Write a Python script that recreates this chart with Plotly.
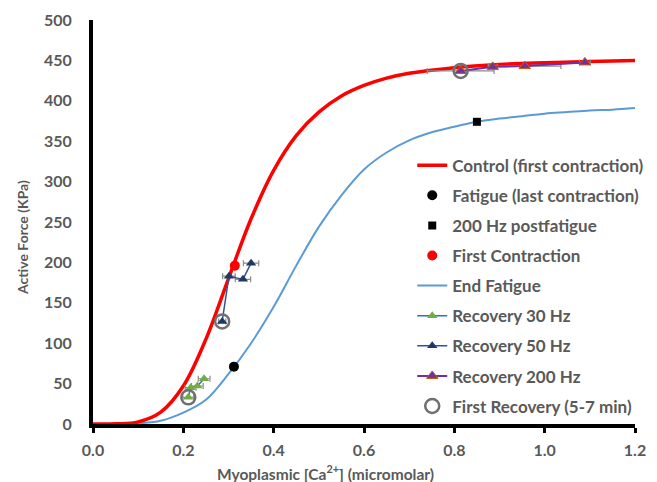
import plotly.graph_objects as go

# Control (first contraction) force-Ca2+ relation
control_ca = [0.0, 0.05, 0.1, 0.15, 0.2, 0.25, 0.3, 0.35, 0.4, 0.45, 0.5, 0.55,
              0.6, 0.65, 0.7, 0.8, 0.9, 1.0, 1.1, 1.2]
control_force = [0, 0.2, 2.6, 14.7, 47, 105, 180, 254, 314, 357, 386, 406,
                 419, 428, 434, 441, 445, 447, 448.5, 450]

# End-of-fatigue force-Ca2+ relation
fatigue_ca = [0.0, 0.05, 0.1, 0.15, 0.2, 0.25, 0.3, 0.35, 0.4, 0.45, 0.5, 0.55,
              0.6, 0.65, 0.7, 0.75, 0.8, 0.85, 0.9, 0.95, 1.0, 1.05, 1.1, 1.15, 1.2]
fatigue_force = [0, 0, 1, 4, 14, 30, 62, 100, 145, 196, 244, 283,
                 315, 336, 351, 361, 368, 374, 378, 381, 384, 386, 388, 389, 391]

# Single measurements
fatigue_last_ca, fatigue_last_force = [0.312], [71]
post200_ca, post200_force = [0.850], [374]
first_ca, first_force = [0.314], [196]

# Recovery series (Ca2+, force, Ca2+ SEM)
rec30_ca = [0.211, 0.216, 0.231, 0.246]
rec30_force = [33, 45, 47, 56]
rec30_err = [0.012, 0.012, 0.013, 0.013]

rec50_ca = [0.286, 0.301, 0.332, 0.350]
rec50_force = [127, 183, 179, 199]
rec50_err = [0.008, 0.014, 0.017, 0.017]

rec200_ca = [0.814, 0.885, 0.956, 1.089]
rec200_force = [437, 442, 443, 447.5]
rec200_err = [0.074, 0.01, 0.08, 0.012]

firstrec_ca = [0.211, 0.286, 0.814]
firstrec_force = [33, 127, 437]

GREY = "#595959"
ERR = dict(type="data", thickness=1.2, width=3, color="#8c8c8c")

fig = go.Figure()

fig.add_trace(go.Scatter(
    x=fatigue_ca, y=fatigue_force, mode="lines", name="End Fatigue",
    line=dict(color="#5b9bd5", width=2, shape="spline"),
    legendrank=5, legendgroup="g5"))

fig.add_trace(go.Scatter(
    x=control_ca, y=control_force, mode="lines", name="Control (first contraction)",
    line=dict(color="#ff0000", width=3.5, shape="spline"),
    legendrank=1, legendgroup="g1"))

fig.add_trace(go.Scatter(
    x=fatigue_last_ca, y=fatigue_last_force, mode="markers",
    name="Fatigue (last contraction)",
    marker=dict(color="#000000", size=10, symbol="circle"),
    legendrank=2, legendgroup="g2"))

fig.add_trace(go.Scatter(
    x=post200_ca, y=post200_force, mode="markers", name="200 Hz postfatigue",
    marker=dict(color="#000000", size=8, symbol="square"),
    legendrank=3, legendgroup="g3"))

fig.add_trace(go.Scatter(
    x=rec30_ca, y=rec30_force, mode="lines+markers", name="Recovery 30 Hz",
    line=dict(color="#2e75b6", width=1.5),
    marker=dict(color="#70ad47", size=9, symbol="triangle-up"),
    error_x=dict(array=rec30_err, **ERR),
    legendrank=6, legendgroup="g6"))

fig.add_trace(go.Scatter(
    x=rec50_ca, y=rec50_force, mode="lines+markers", name="Recovery 50 Hz",
    line=dict(color="#2f5597", width=1.5),
    marker=dict(color="#1f3864", size=9, symbol="triangle-up"),
    error_x=dict(array=rec50_err, **ERR),
    legendrank=7, legendgroup="g7"))

fig.add_trace(go.Scatter(
    x=rec200_ca, y=rec200_force, mode="lines+markers", name="Recovery 200 Hz",
    line=dict(color="#7030a0", width=2),
    marker=dict(color="#7030a0", size=10, symbol="triangle-up",
                line=dict(color="#c55a11", width=1)),
    error_x=dict(array=rec200_err, **ERR),
    legendrank=8, legendgroup="g8"))

fig.add_trace(go.Scatter(
    x=firstrec_ca, y=firstrec_force, mode="markers",
    name="First Recovery (5-7 min)",
    marker=dict(color="#707070", size=14, symbol="circle-open",
                line=dict(color="#707070", width=2.5)),
    legendrank=9, legendgroup="g9"))

fig.add_trace(go.Scatter(
    x=first_ca, y=first_force, mode="markers", name="First Contraction",
    marker=dict(color="#ff0000", size=10, symbol="circle"),
    legendrank=4, legendgroup="g4"))

tick_font = dict(family="Lato", size=16, color=GREY, weight="bold")

fig.update_layout(
    width=657, height=482,
    margin=dict(l=93, r=22, t=20, b=58, autoexpand=False),
    paper_bgcolor="white", plot_bgcolor="white",
    font=dict(family="Lato", color=GREY),
    legend=dict(
        x=0.589, y=0.684, xanchor="left", yanchor="top",
        font=dict(family="Lato", size=17, color=GREY, weight="bold"),
        bgcolor="rgba(0,0,0,0)", tracegroupgap=5, itemwidth=30,
    ),
    xaxis=dict(
        range=[0, 1.2], tickvals=[0, 0.2, 0.4, 0.6, 0.8, 1.0, 1.2],
        ticktext=["0.0", "0.2", "0.4", "0.6", "0.8", "1.0", "1.2"],
        showgrid=False, zeroline=False,
        showline=True, linecolor="black", linewidth=4,
        ticks="outside", ticklen=5, tickwidth=3, tickcolor="black",
        tickfont=tick_font, ticklabelstandoff=4,
    ),
    yaxis=dict(
        range=[0, 500], tickvals=list(range(0, 501, 50)),
        showgrid=False, zeroline=False,
        showline=True, linecolor="black", linewidth=4,
        ticks="", tickfont=tick_font, ticklabelstandoff=14,
    ),
    annotations=[
        dict(text="Myoplasmic [Ca<sup>2+</sup>] (micromolar)",
             xref="paper", yref="paper", x=(325 - 93) / 542, y=-48 / 404,
             xanchor="center", yanchor="middle", showarrow=False,
             font=dict(family="Lato", size=15.5, color=GREY, weight="bold")),
        dict(text="Active Force (KPa)", textangle=-90,
             xref="paper", yref="paper", x=-71 / 542, y=(424 - 238) / 404,
             xanchor="center", yanchor="middle", showarrow=False,
             font=dict(family="Lato", size=14, color=GREY, weight="bold")),
    ],
)

fig.write_html("out.html")
